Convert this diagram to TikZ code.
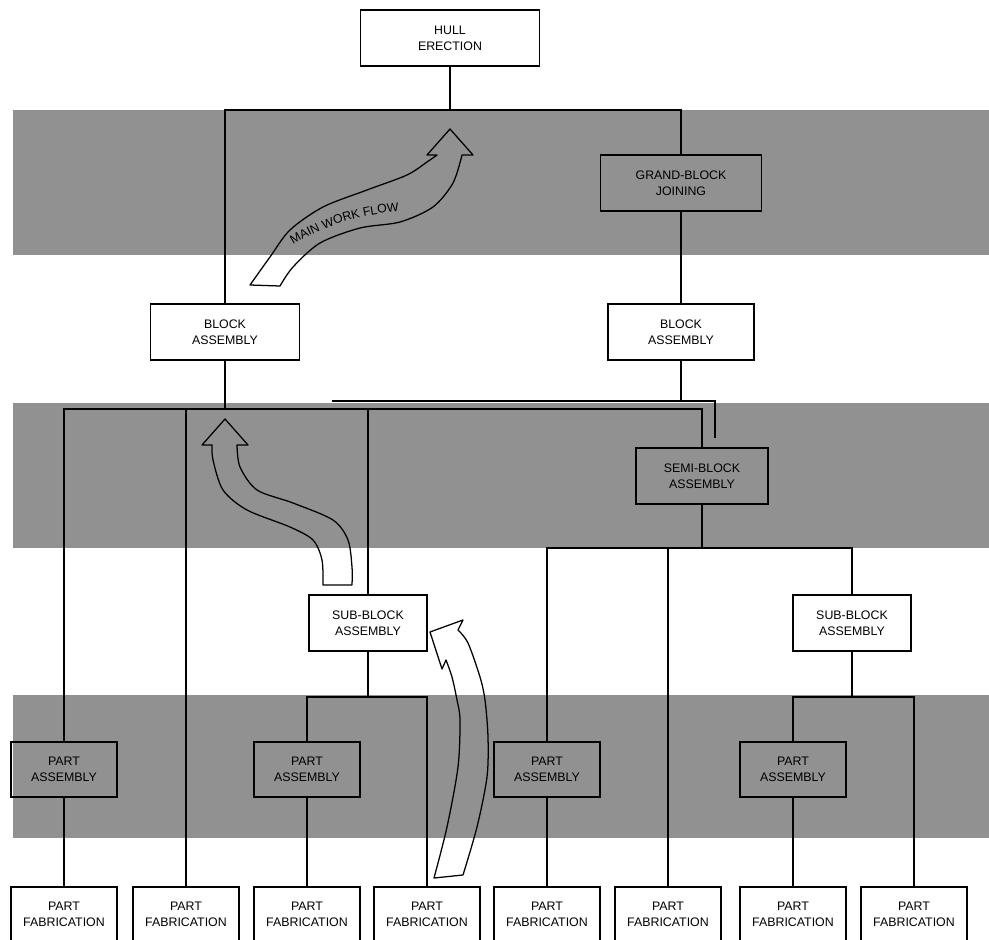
\documentclass[tikz,border=0pt]{standalone}
\usepackage{fontspec}
\setmainfont{Liberation Sans}
\usetikzlibrary{decorations.text}
\tikzset{
  band/.style={fill=black!43}, % shaded production levels
  stage/.style={draw,line width=1.3pt,align=center,inner sep=0pt,
    minimum height=1.42cm,font=\fontsize{8.8}{11.5}\selectfont},
  part asm/.style={stage,minimum width=2.65cm,minimum height=1.38cm},
  part fab/.style={stage,minimum width=2.65cm,minimum height=1.36cm},
  link/.style={line width=0.8pt},
  flow/.style={line width=0.9pt,line join=round}
}

\begin{document}
\begin{tikzpicture}[x=0.025cm, y=-0.025cm]
  \useasboundingbox (0,0) rectangle (989,940);
  \clip (0,0) rectangle (989,940);

  % Bands
  \fill[band] (13,110) rectangle (989,255);
  \fill[band] (13,403) rectangle (989,548);
  \fill[band] (13,695) rectangle (989,838);

  % Stages
  \node[stage, minimum width=4.47cm] (hull) at (450,38) {HULL\\ERECTION};
  \node[stage, minimum width=4.02cm] (grand) at (681,183) {GRAND-BLOCK\\JOINING};
  \node[stage, minimum width=3.72cm] (blockL) at (225,332) {BLOCK\\ASSEMBLY};
  \node[stage, minimum width=3.65cm] (blockR) at (681,332) {BLOCK\\ASSEMBLY};
  \node[stage, minimum width=3.3cm, minimum height=1.4cm] (semi) at (702,476) {SEMI-BLOCK\\ASSEMBLY};
  \node[stage, minimum width=2.95cm, minimum height=1.4cm] (subL) at (368,623) {SUB-BLOCK\\ASSEMBLY};
  \node[stage, minimum width=2.95cm, minimum height=1.4cm] (subR) at (852,623) {SUB-BLOCK\\ASSEMBLY};

  % Part assembly
  \foreach \n/\x in {1/64, 2/307, 3/547, 4/793}
    \node[part asm] (pa\n) at (\x,769.5) {PART\\ASSEMBLY};

  % Part fabrication
  \foreach \n/\x in {1/64, 2/186, 3/307, 4/427, 5/547, 6/668, 7/793, 8/914}
    \node[part fab] (pf\n) at (\x,914) {PART\\FABRICATION};

  % Buses
  \coordinate (top bus) at (450,110);
  \coordinate (mid bus) at (702,409);
  \coordinate (ghost left) at (332,401);
  \coordinate (ghost bus) at (715,401);
  \coordinate (ghost end) at (715,438);
  \coordinate (low bus) at (702,548);
  \coordinate (subL bus) at (368,697);
  \coordinate (subR bus) at (852,697);

  % Connectors
  \draw[link] (hull) -- (top bus);
  \draw[link] (blockL) |- (top bus) -| (grand);
  \draw[link] (grand) -- (blockR);

  \draw[link] (pa1) |- (mid bus) -- (semi);
  \draw[link] (blockL) -- (blockL |- mid bus);
  \draw[link] (pf2) -- (pf2 |- mid bus);
  \draw[link] (subL) -- (subL |- mid bus);
  \draw[link] (blockR) -- (blockR |- ghost bus);
  \draw[link] (ghost left) -- (ghost bus) -- (ghost end);

  \draw[link] (semi) -- (low bus);
  \draw[link] (pa3) |- (low bus) -| (subR);
  \draw[link] (pf6) -- (pf6 |- low bus);

  \draw[link] (subL) -- (subL bus);
  \draw[link] (pa2) |- (subL bus) -| (pf4);
  \draw[link] (subR) -- (subR bus);
  \draw[link] (pa4) |- (subR bus) -| (pf8);

  \foreach \a/\f in {pa1/pf1, pa2/pf3, pa3/pf5, pa4/pf7}
    \draw[link] (\a) -- (\f);

  % Main work flow arrow
  \draw[flow] plot[smooth] coordinates {(250,285) (270,257) (290,230) (323,207)
      (367,190) (407,175) (427,162) (437,155)}
    -- (427,155) -- (450,129) -- (473,155)
    -- plot[smooth] coordinates {(462,155) (453,183) (433,207) (400,222)
      (360,228) (320,243) (293,267) (280,286)}
    -- cycle;
  \path[decorate, decoration={text along path, text align=center,
      text={|\fontsize{8.8}{10}\selectfont|MAIN WORK FLOW}}]
    (290,247) .. controls (320,227) and (360,214) .. (403,211);

  % Arrow up to block assembly
  \draw[flow] (225,419) -- (202,445) -- (212,445)
    -- plot[smooth] coordinates {(212,445) (213,460) (223,490) (247,510)
      (290,527) (313,540) (322,560) (323,585)}
    -- (352,585)
    -- plot[smooth] coordinates {(352,585) (352,567) (348,540) (333,520)
      (293,503) (257,490) (240,467) (237,445)}
    -- (248,445) -- cycle;

  % Arrow up to sub-block assembly
  \draw[flow] plot[smooth] coordinates {(434,878) (447,827) (458,767)
      (460,720) (457,700) (452,677) (446,660)}
    -- (442,669) -- (430,632) -- (463,620)
    -- plot[smooth] coordinates {(458,630) (468,643) (480,677) (485,700)
      (488,737) (487,777) (477,827) (463,875)}
    -- cycle;
\end{tikzpicture}
\end{document}
